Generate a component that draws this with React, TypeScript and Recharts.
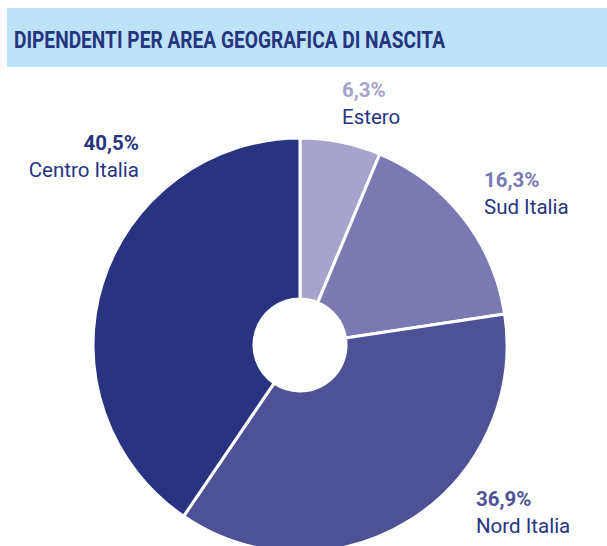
import React from 'react';
import { PieChart, Pie, Cell } from 'recharts';

const areas = ['Estero', 'Sud Italia', 'Nord Italia', 'Centro Italia'];
const shares = [6.3, 16.3, 36.9, 40.5];
const colors = ['#a6a4cc', '#7b79b1', '#4f5196', '#283480'];

// label anchors relative to the pie centre (by slice index)
const labelPos = [
  { dx: 42, dy: -248, anchor: 'start' },
  { dx: 184, dy: -158, anchor: 'start' },
  { dx: 176, dy: 161, anchor: 'start' },
  { dx: -161, dy: -195, anchor: 'end' },
];

const data = areas.map((name, i) => ({ name, value: shares[i] }));

const renderLabel = (props: any) => {
  const { cx, cy, index, name, value } = props;
  const p = labelPos[index];
  const x = cx + p.dx;
  const y = cy + p.dy;
  return (
    <g>
      <text x={x} y={y} textAnchor={p.anchor} fill={colors[index]} fontSize={20.5} fontWeight={700} fontFamily="Roboto">
        {value.toFixed(1).replace('.', ',')}%
      </text>
      <text x={x} y={y + 27} textAnchor={p.anchor} fill="#283480" fontSize={20.5} fontFamily="Roboto">
        {name}
      </text>
    </g>
  );
};

const App: React.FC = () => {
  return (
    <div style={{ position: 'relative', width: 607, height: 546, background: '#fff' }}>
      <style>{'body{margin:0;overflow:hidden}'}</style>
      <svg width={600} height={59} style={{ position: 'absolute', left: 7, top: 8 }}>
        <rect x={0} y={0} width={600} height={59} fill="#bee3f8" />
        <text x={7} y={39.5} fill="#263580" fontSize={23} fontWeight={700} fontFamily="Roboto" textLength={431} lengthAdjust="spacingAndGlyphs">
          DIPENDENTI PER AREA GEOGRAFICA DI NASCITA
        </text>
      </svg>
      <div style={{ position: 'absolute', left: 0, top: 0 }}>
        <PieChart width={607} height={546} margin={{ top: 0, right: 0, bottom: 0, left: 0 }}>
          <Pie
            data={data}
            dataKey="value"
            nameKey="name"
            cx={300}
            cy={345}
            innerRadius={46}
            outerRadius={207}
            startAngle={90}
            endAngle={-270}
            stroke="#ffffff"
            strokeWidth={3}
            label={renderLabel}
            labelLine={false}
            isAnimationActive={false}
          >
            {data.map((d, i) => (
              <Cell key={d.name} fill={colors[i]} />
            ))}
          </Pie>
        </PieChart>
      </div>
    </div>
  );
};

export default App;
